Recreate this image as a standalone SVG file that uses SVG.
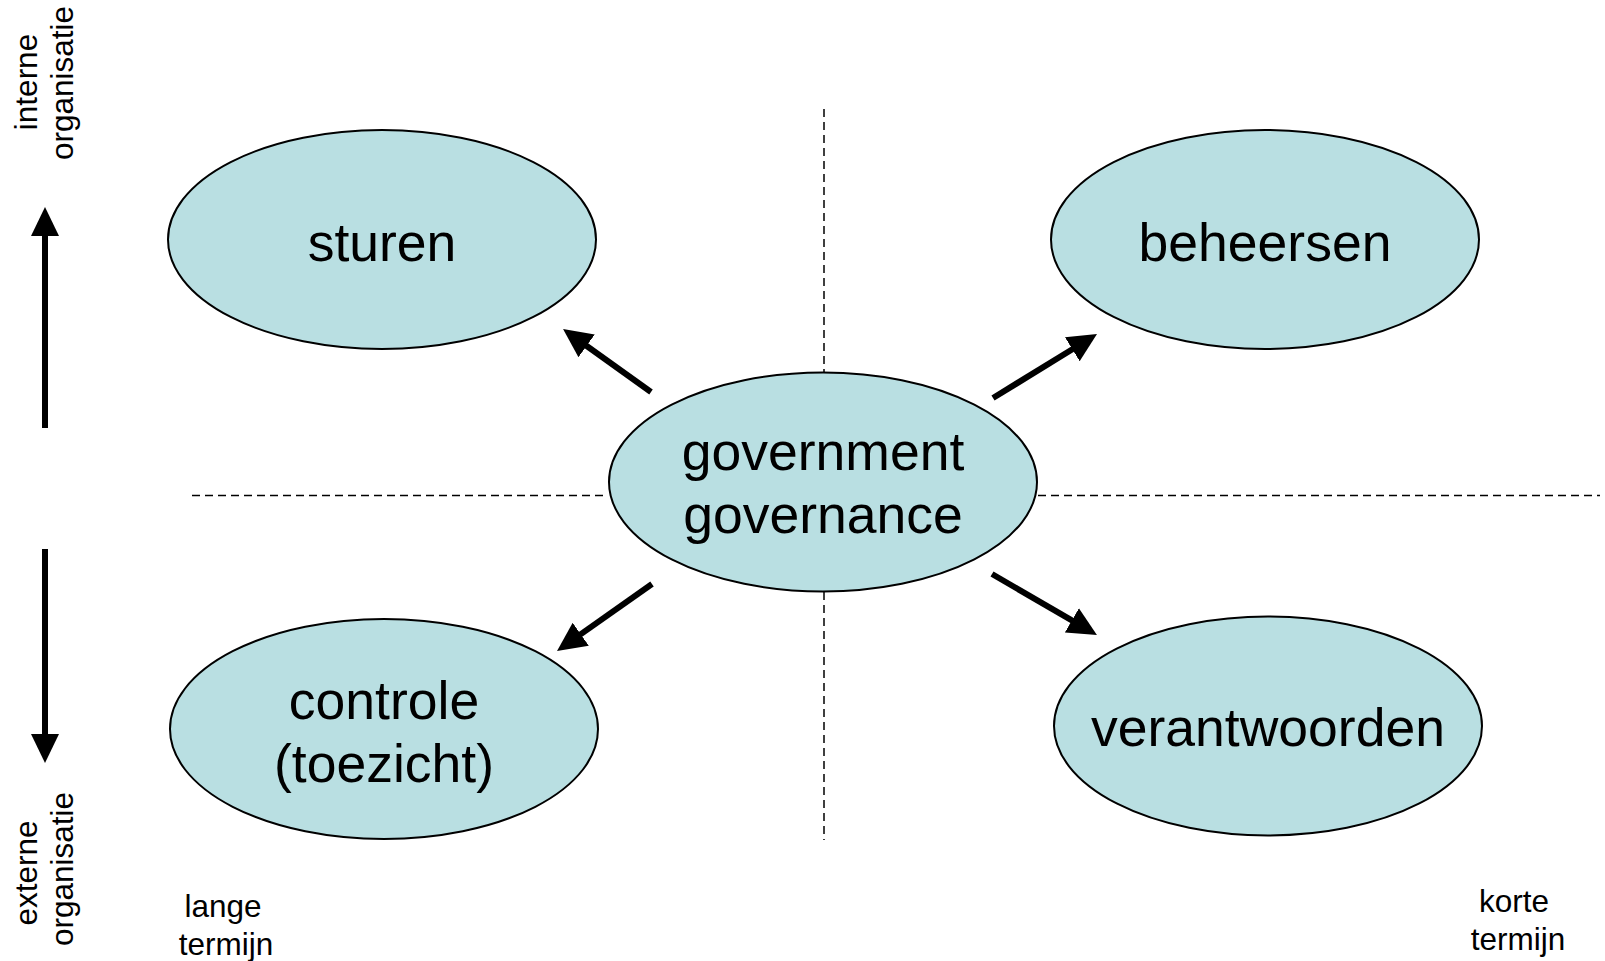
<svg xmlns="http://www.w3.org/2000/svg" width="1605" height="961" viewBox="0 0 1605 961">
<style>
.node ellipse{fill:#b9dfe2;stroke:#000;stroke-width:2}
.big{font-family:"Liberation Sans",Arial,sans-serif;font-size:53.5px;fill:#000;text-anchor:middle}
.small{font-family:"Liberation Sans",Arial,sans-serif;font-size:31.5px;fill:#000;text-anchor:middle}
.dash{stroke:#000;stroke-width:1.5;stroke-dasharray:8 5;fill:none}
.arrow{stroke:#000;stroke-width:6;fill:none;marker-end:url(#ah)}
</style>
<defs>
<marker id="ah" markerUnits="userSpaceOnUse" markerWidth="30" markerHeight="30" refX="2" refY="14" orient="auto" viewBox="0 0 30 28">
<path d="M0,0 L29,14 L0,28 z" fill="#000"/>
</marker>
</defs>
<rect width="1605" height="961" fill="#fff"/>
<g id="guides">
<line class="dash" x1="824" y1="109" x2="824" y2="372"/>
<line class="dash" x1="824" y1="592" x2="824" y2="840"/>
<line class="dash" x1="192" y1="495.5" x2="608" y2="495.5"/>
<line class="dash" x1="1038" y1="495.5" x2="1600" y2="495.5"/>
</g>
<g id="sturen" class="node">
<ellipse cx="382" cy="239.5" rx="214" ry="109.5"/>
<text class="big" x="382" y="261">sturen</text>
</g>
<g id="beheersen" class="node">
<ellipse cx="1265" cy="239.5" rx="214" ry="109.5"/>
<text class="big" x="1265" y="261">beheersen</text>
</g>
<g id="governance" class="node">
<ellipse cx="823" cy="482" rx="214" ry="109.5"/>
<text class="big" x="823" y="470">government</text>
<text class="big" x="823" y="533">governance</text>
</g>
<g id="controle" class="node">
<ellipse cx="384" cy="729" rx="214" ry="110"/>
<text class="big" x="384" y="719">controle</text>
<text class="big" x="384" y="782">(toezicht)</text>
</g>
<g id="verantwoorden" class="node">
<ellipse cx="1268" cy="726" rx="214" ry="109.5"/>
<text class="big" x="1268" y="746">verantwoorden</text>
</g>
<g id="connectors">
<line class="arrow" x1="651" y1="392" x2="585" y2="344.7"/>
<line class="arrow" x1="993" y1="398" x2="1074" y2="348.2"/>
<line class="arrow" x1="652" y1="584" x2="579.1" y2="635.4"/>
<line class="arrow" x1="992" y1="574" x2="1073.6" y2="621.4"/>
<line class="arrow" x1="45" y1="428" x2="45" y2="234"/>
<line class="arrow" x1="45" y1="549" x2="45" y2="736"/>
</g>
<g id="labels">
<text class="small" transform="translate(37,82) rotate(-90)">interne</text>
<text class="small" transform="translate(73,83) rotate(-90)">organisatie</text>
<text class="small" transform="translate(37,873) rotate(-90)">externe</text>
<text class="small" transform="translate(73,869) rotate(-90)">organisatie</text>
<text class="small" x="223" y="917">lange</text>
<text class="small" x="226" y="955">termijn</text>
<text class="small" x="1514" y="912">korte</text>
<text class="small" x="1518" y="950">termijn</text>
</g>
</svg>
